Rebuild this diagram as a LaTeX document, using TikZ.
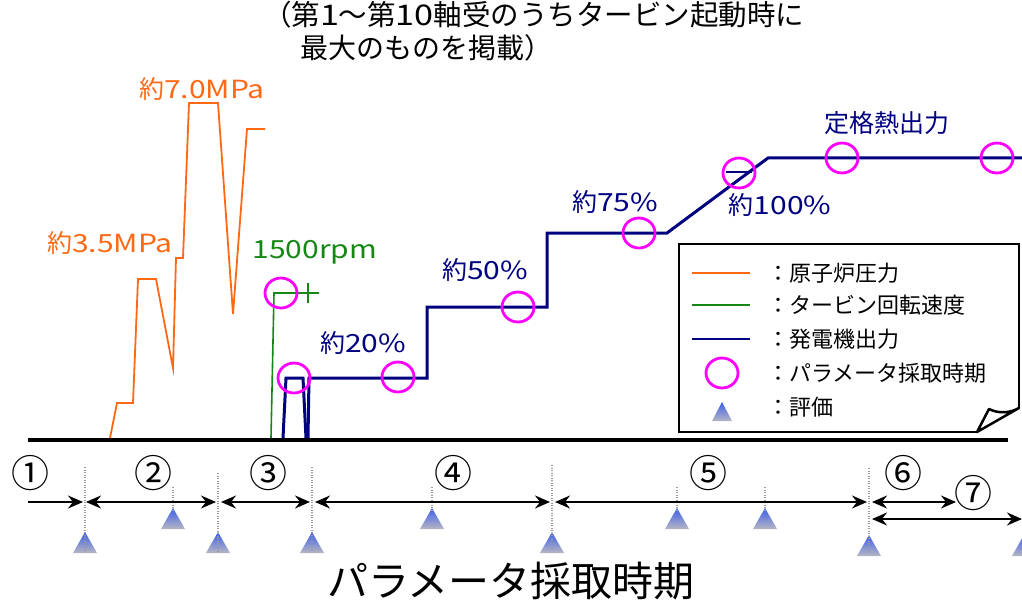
\documentclass[tikz,border=0pt]{standalone}
\usepackage{fontspec}
\setmainfont{Noto Sans CJK JP}
\newfontfamily\latw[FakeStretch=1.2]{Noto Sans CJK JP}
\usetikzlibrary{arrows.meta}
\definecolor{orng}{RGB}{255,105,20}
\definecolor{grn}{RGB}{20,135,20}
\definecolor{nvy}{RGB}{0,0,128}
\definecolor{mag}{RGB}{255,0,255}
\definecolor{triblue}{RGB}{60,95,235}
\definecolor{trigray}{RGB}{182,182,194}
\newcommand\evtri[2]{\shade[top color=triblue,bottom color=trigray] (#1-12,#2+21)--(#1,#2)--(#1+12,#2+21)--cycle;}
\newcommand\sampmark[2]{\draw[sampc] (#1,#2) ellipse [x radius=16pt, y radius=15pt];}
\begin{document}
\begin{tikzpicture}[x=1pt,y=-1pt,
  every node/.style={inner sep=0pt, outer sep=0pt},
  sampc/.style={mag, line width=2.8pt},
  pres/.style={orng, line width=1.8pt, line join=miter},
  speed/.style={grn, line width=1.6pt},
  gen/.style={nvy, line width=3pt, line join=miter},
  dotv/.style={gray!80, line width=1.2pt, dash pattern=on 1.2pt off 1.3pt},
  span/.style={black, line width=2pt, {Stealth[length=15pt,width=13pt,inset=5pt]}-{Stealth[length=15pt,width=13pt,inset=5pt]}},
  spanr/.style={black, line width=2pt, -{Stealth[length=15pt,width=13pt,inset=5pt]}},
  lbl/.style={font=\fontsize{25}{30}\selectfont},
  glbl/.style={nvy, font=\fontsize{25}{30}\selectfont},
  legtxt/.style={anchor=west, font=\fontsize{22}{26}\selectfont},
  numlbl/.style={font=\fontsize{38}{42}\selectfont}]
\useasboundingbox (0,0) rectangle (1022,604);

% title
\node[anchor=west, font=\fontsize{28.5}{32}\selectfont] (title1) at (263,15) {（第{\latw 1}～第{\latw 10}軸受のうちタービン起動時に};
\node[anchor=west, font=\fontsize{28}{32}\selectfont] (title2) at (300,48) {最大のものを掲載）};

% reactor pressure
\draw[pres] (110,438)--(117,403)--(133,403)--(138,279)--(156,279)--(173,368)--(176,258)--(183,258)--(189,103)--(218,103)--(233,314)--(247,129)--(265,129);
\node[lbl, orng] (p70) at (202,89) {約{\latw 7.0MPa}};
\node[lbl, orng] (p35) at (110,243) {約{\latw 3.5MPa}};

% turbine speed
\draw[speed] (271,438)--(274,293)--(319,293);
\draw[speed] (308,283)--(308,303);
\node[lbl, grn] (rpm) at (315,252) {\latw 1500rpm};

% generator output
\draw[gen] (283,438)--(286,378)--(303,378)--(306,438);
\draw[gen] (308,438)--(309,378)--(427,378)--(427,307)--(547,307)--(547,233)--(667,233)--(768,158)--(1022,158);
\draw[nvy, line width=2.5pt] (726,172)--(752,172);
\node[glbl] (g20) at (363,343) {約{\latw 20\%}};
\node[glbl] (g50) at (485,270) {約{\latw 50\%}};
\node[glbl] (g75) at (615,202) {約{\latw 75\%}};
\node[glbl] (g100) at (780,205) {約{\latw 100\%}};
\node[glbl] (grated) at (887,123) {定格熱出力};

% sampling circles
\sampmark{281}{293}
\sampmark{294}{378}
\sampmark{398}{377}
\sampmark{518}{307}
\sampmark{639}{233}
\sampmark{739}{173}
\sampmark{842}{158}
\sampmark{997}{158}

% legend
\draw[black, line width=2.5pt, line join=miter] (1019,408)--(1019,244)--(679,244)--(679,432)--(977,432);
\draw[black, line width=2.5pt, line join=round] (977,432)--(989,409) .. controls (999,414) and (1010,413) .. (1019,408)--cycle;
\draw[orng, line width=1.8pt] (692,273)--(750,273);
\draw[grn, line width=1.8pt] (692,305)--(750,305);
\draw[nvy, line width=2.2pt] (692,339)--(750,339);
\draw[sampc] (722,373) ellipse [x radius=16pt, y radius=15pt];
\shade[top color=triblue,bottom color=trigray] (712,421)--(722,402)--(732,421)--cycle;
\node[legtxt] (l1) at (767,273) {：原子炉圧力};
\node[legtxt] (l2) at (767,305) {：タービン回転速度};
\node[legtxt] (l3) at (767,339) {：発電機出力};
\node[legtxt] (l4) at (767,373) {：パラメータ採取時期};
\node[legtxt] (l5) at (767,407) {：評価};

% base line
\draw[black, line width=4pt] (28,440)--(1008,440);

% evaluation triangles
\evtri{85}{532}
\evtri{173}{508}
\evtri{218}{532}
\evtri{312}{532}
\evtri{432}{508}
\evtri{552}{532}
\evtri{677}{508}
\evtri{765}{508}
\evtri{869}{535}
\evtri{1024}{535}

% dotted markers
\draw[dotv] (85,467)--(85,552);
\draw[dotv] (173,487)--(173,510);
\draw[dotv] (218,473)--(218,552);
\draw[dotv] (312,467)--(312,552);
\draw[dotv] (432,487)--(432,510);
\draw[dotv] (552,465)--(552,550);
\draw[dotv] (677,487)--(677,510);
\draw[dotv] (765,487)--(765,510);
\draw[dotv] (869,468)--(869,553);

% period arrows
\coordinate (s1a) at (28,502);  \coordinate (s1b) at (83,502);
\coordinate (s2a) at (86,502);  \coordinate (s2b) at (216,502);
\coordinate (s3a) at (221,502); \coordinate (s3b) at (310,502);
\coordinate (s4a) at (315,502); \coordinate (s4b) at (550,502);
\coordinate (s5a) at (555,502); \coordinate (s5b) at (867,502);
\coordinate (s6a) at (872,502); \coordinate (s6b) at (956,502);
\coordinate (s7a) at (872,519); \coordinate (s7b) at (1022,519);
\draw[spanr] (s1a)--(s1b);
\draw[span] (s2a)--(s2b);
\draw[span] (s3a)--(s3b);
\draw[span] (s4a)--(s4b);
\draw[span] (s5a)--(s5b);
\draw[span] (s6a)--(s6b);
\draw[span] (s7a)--(s7b);

\node[numlbl] (n1) at (30,473) {①};
\node[numlbl] (n2) at (153,473) {②};
\node[numlbl] (n3) at (268,473) {③};
\node[numlbl] (n4) at (453,473) {④};
\node[numlbl] (n5) at (708,473) {⑤};
\node[numlbl] (n6) at (903,473) {⑥};
\node[numlbl] (n7) at (973,493) {⑦};

\node[font=\fontsize{41}{46}\selectfont] (xlabel) at (511,581) {パラメータ採取時期};
\end{tikzpicture}
\end{document}
